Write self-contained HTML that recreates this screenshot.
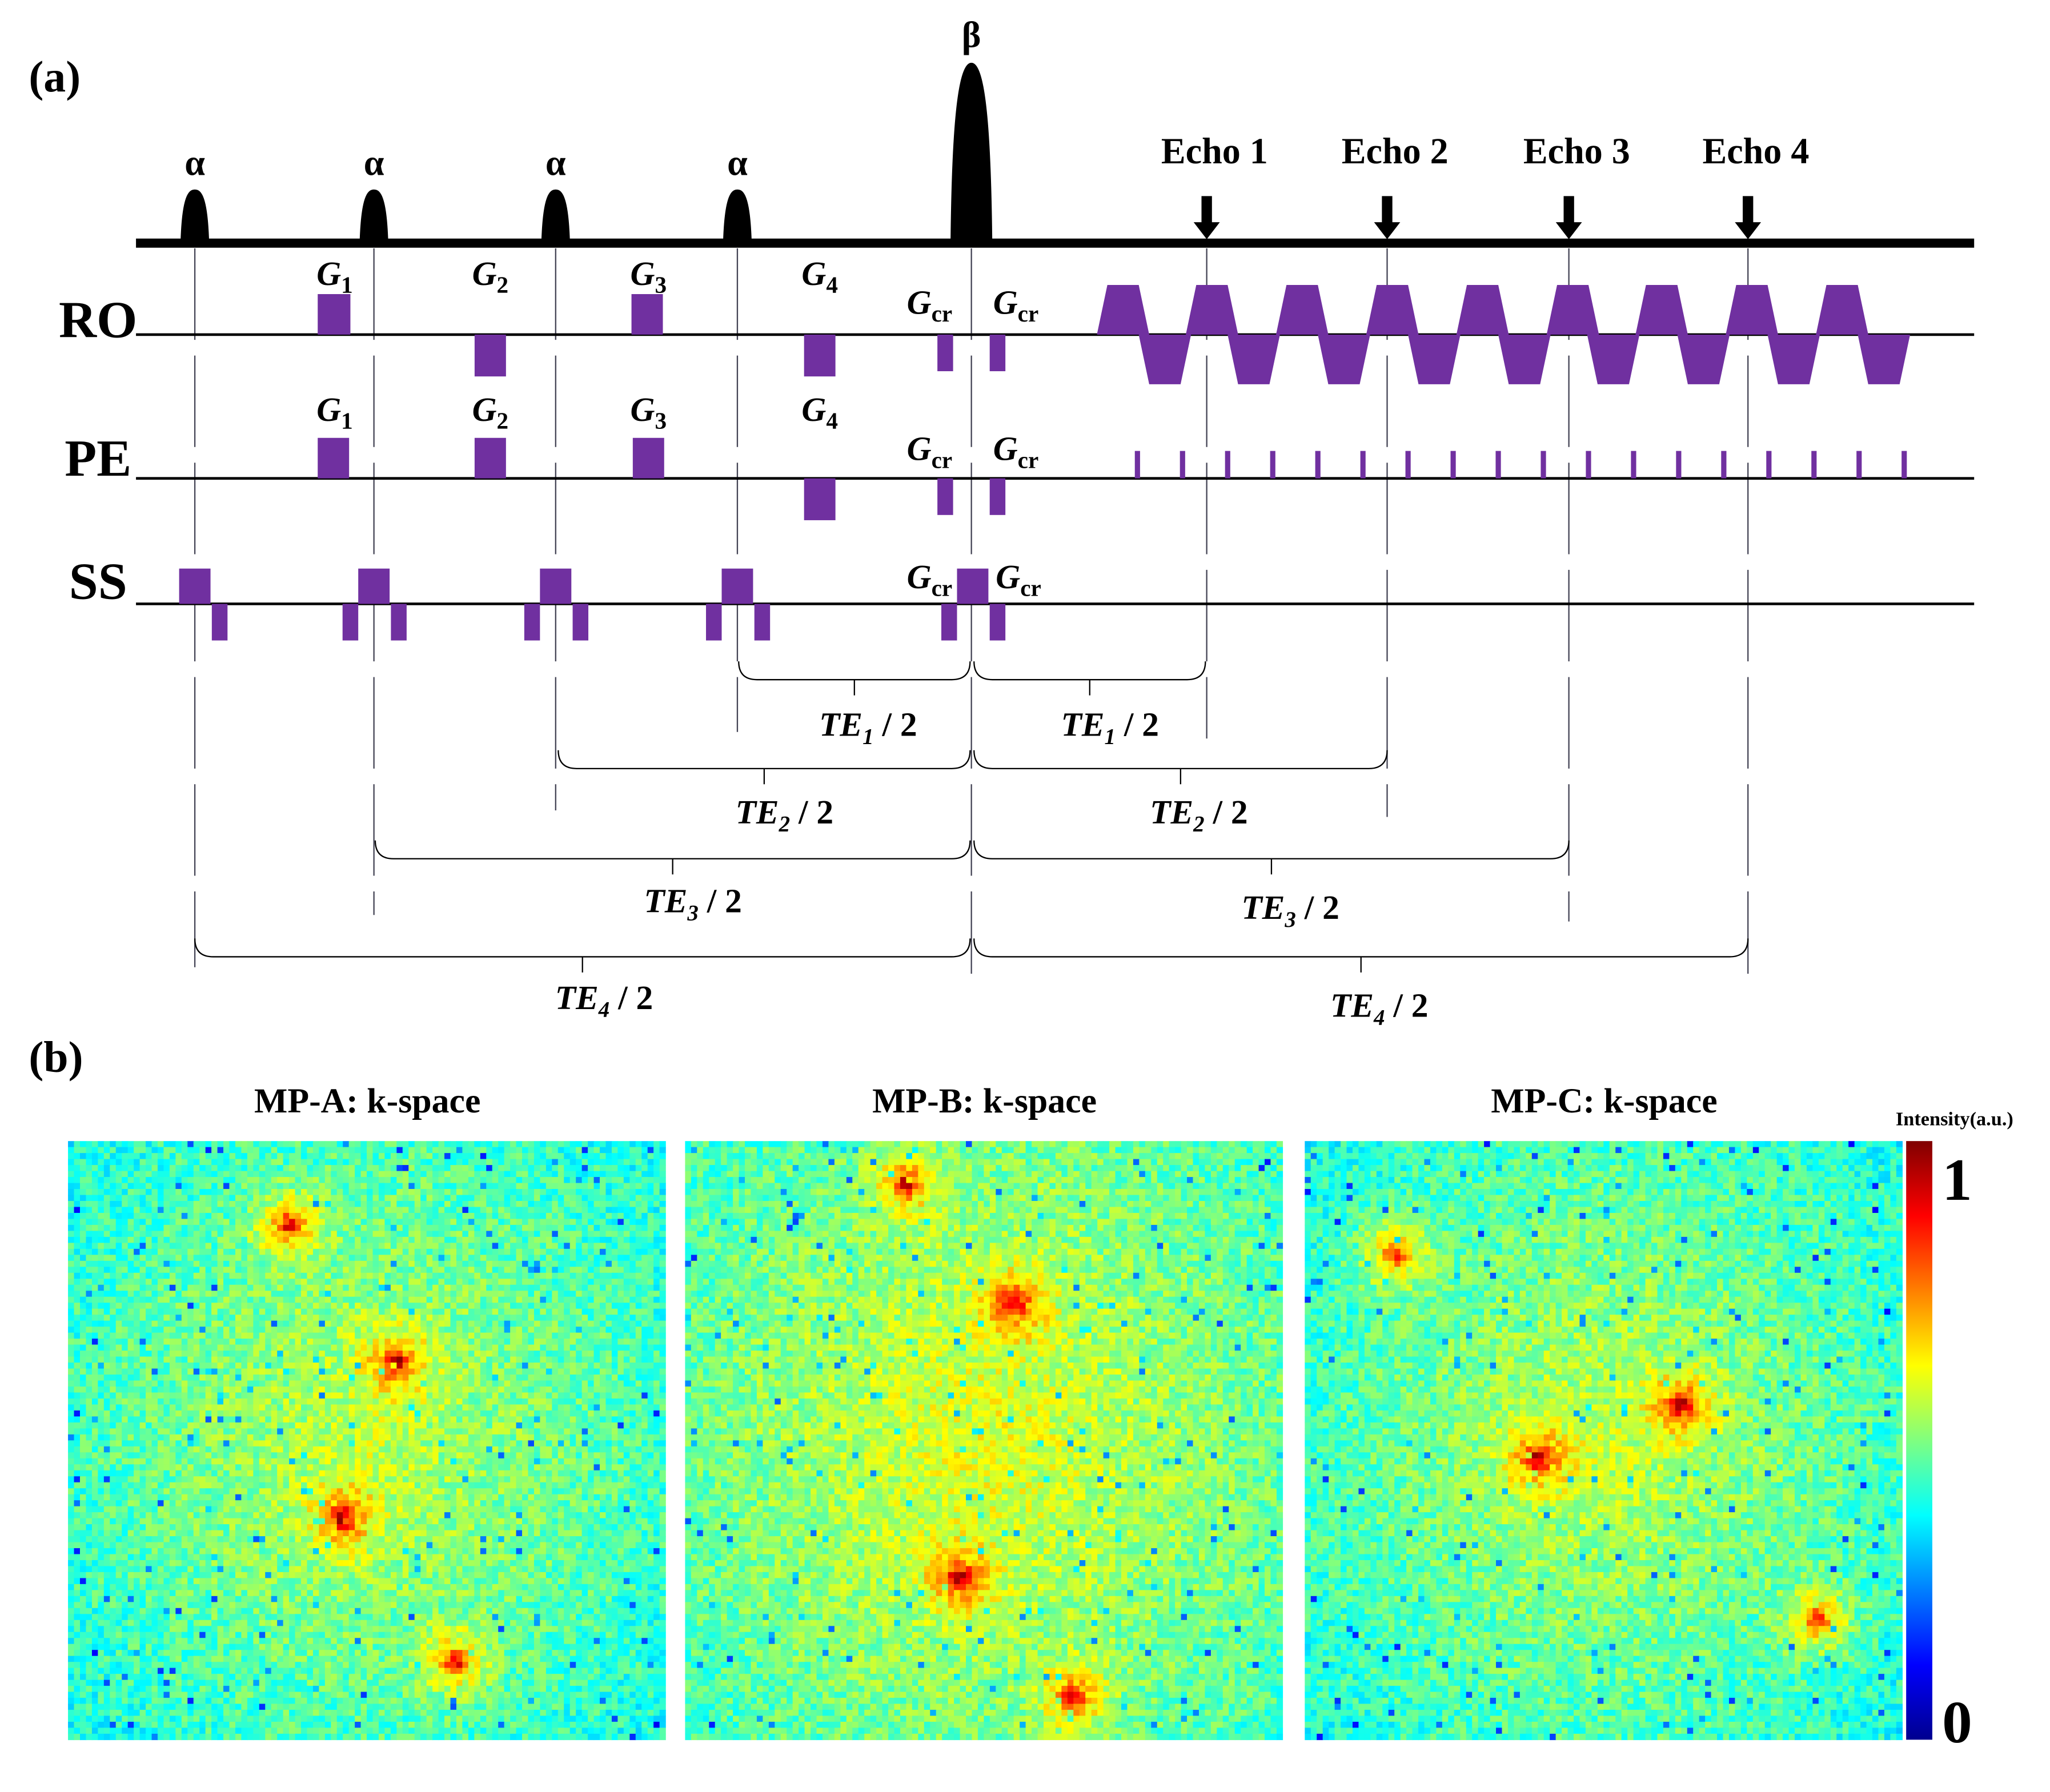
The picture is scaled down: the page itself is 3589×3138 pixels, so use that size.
<!DOCTYPE html>
<html><head><meta charset="utf-8"><style>
html,body{margin:0;padding:0;background:#fff}
svg{display:block}
text{font-family:"Liberation Serif",serif}
</style></head><body>
<svg id="s" width="3589" height="3138" viewBox="0 0 1568 1371" xmlns="http://www.w3.org/2000/svg">
<rect width="1568" height="1371" fill="#fff"/>
<text x="22" y="70" font-size="34" font-weight="bold">(a)</text>
<text x="22" y="820" font-size="34" font-weight="bold">(b)</text>
<g id="seq"></g>
<g id="maps"></g>
<defs>
<linearGradient id="jet" x1="0" y1="1" x2="0" y2="0">
<stop offset="0" stop-color="#00008f"/><stop offset="0.125" stop-color="#0000ff"/><stop offset="0.375" stop-color="#00ffff"/><stop offset="0.625" stop-color="#ffff00"/><stop offset="0.875" stop-color="#ff0000"/><stop offset="1" stop-color="#800000"/>
</linearGradient>
</defs>
<rect x="1458" y="873" width="20" height="458" fill="url(#jet)"/>
<text x="1495" y="861" font-size="15" font-weight="bold" text-anchor="middle">Intensity(a.u.)</text>
<text x="1497" y="918" font-size="46" font-weight="bold" text-anchor="middle">1</text>
<text x="1497" y="1333" font-size="46" font-weight="bold" text-anchor="middle">0</text>
</svg>
<script>
const NS="http://www.w3.org/2000/svg";
const seq=document.getElementById('seq');
function el(tag,attrs,parent,txt){const e=document.createElementNS(NS,tag);for(const k in attrs)e.setAttribute(k,attrs[k]);if(txt!==undefined)e.textContent=txt;(parent||seq).appendChild(e);return e;}
const P='#7030a0';
const alphaX=[149,286,425,564];
const betaX=743;
const echoX=[923,1061,1200,1337];
[...alphaX,betaX,...echoX].forEach((x,i)=>{
  const y2 = i<4 ? [740,700,620,560][i] : (i==4?745:[565,625,705,745][i-5]);
  const l=el('line',{x1:x,y1:190,x2:x,y2:y2,stroke:'#445',"stroke-width":1,"stroke-dasharray":"70,12"});
  
});
let b=el('line',{x1:104,y1:186,x2:1510,y2:186,stroke:'#000',"stroke-width":7});

alphaX.forEach(x=>{
  const p=el('path',{d:`M${x-11},187 C${x-10},150 ${x-5},145 ${x},145 C${x+5},145 ${x+10},150 ${x+11},187 Z`,fill:'#000'});
  
  const t=el('text',{x:x,y:134,"font-size":28,"font-weight":"bold","text-anchor":"middle","font-family":"DejaVu Sans"},seq,'α');
  
});
let bp=el('path',{d:`M${betaX-16},188 C${betaX-15},90 ${betaX-10},48 ${betaX},48 C${betaX+10},48 ${betaX+15},90 ${betaX+16},188 Z`,fill:'#000'});

let bt=el('text',{x:betaX,y:36,"font-size":28,"font-weight":"bold","text-anchor":"middle","font-family":"DejaVu Sans"},seq,'β');

echoX.forEach((x,i)=>{
  const t=el('text',{x:x+6,y:125,"font-size":28,"font-weight":"bold","text-anchor":"middle"},seq,'Echo '+(i+1));
  
  const a=el('path',{d:`M${x-4},150 h8 v20 h6 l-10,13 l-10,-13 h6 Z`,fill:'#000'});
  
});
[['RO',256,258],['PE',366,364],['SS',462,458]].forEach(([n,y,ty])=>{
  const l=el('line',{x1:104,y1:y,x2:1510,y2:y,stroke:'#000',"stroke-width":2});
  
  const t=el('text',{x:75,y:ty,"font-size":40,"font-weight":"bold","text-anchor":"middle"},seq,n);
  
});
function box(x1,x2,y1,y2,name){const r=el('rect',{x:x1,y:Math.min(y1,y2),width:x2-x1,height:Math.abs(y2-y1),fill:P});}
function glabel(x,y,sub){const t=el('text',{x:x,y:y,"font-size":26,"font-weight":"bold","font-style":"italic","text-anchor":"middle"});
  
  el('tspan',{},t,'G');el('tspan',{dy:6,"font-size":18,"font-style":"normal"},t,sub);}
box(243,268,225,256,'ro-g1');box(363,387,256,288,'ro-g2');box(483,507,225,256,'ro-g3');box(615,639,256,288,'ro-g4');
box(717,729,256,284,'ro-gcr');box(757,769,256,284,'ro-gcr');
glabel(256,218,'1');glabel(375,218,'2');glabel(496,218,'3');glabel(627,218,'4');glabel(711,240,'cr');glabel(777,240,'cr');
const upC=[859,927,996,1065,1134,1203,1271,1340,1409];
const dnC=[891,959,1028,1097,1166,1234,1303,1372,1441];
upC.forEach(c=>{const p=el('path',{d:`M${c-20},256 L${c-12},218 L${c+12},218 L${c+20},256 Z`,fill:P});});
dnC.forEach(c=>{const p=el('path',{d:`M${c-20},256 L${c-12},294 L${c+12},294 L${c+20},256 Z`,fill:P});});
box(243,267,335,366,'pe-g1');box(363,387,335,366,'pe-g2');box(484,508,335,366,'pe-g3');box(615,639,366,398,'pe-g4');
box(717,729,366,394,'pe-gcr');box(757,769,366,394,'pe-gcr');
glabel(256,322,'1');glabel(375,322,'2');glabel(496,322,'3');glabel(627,322,'4');glabel(711,352,'cr');glabel(777,352,'cr');
for(let i=0;i<18;i++){const x=868+i*34.5;box(x,x+4,345,366,'pe-blip');}
alphaX.forEach((x,i)=>{
  if(i==0){box(137,161,435,462,'ss-slice-select');box(162,174,462,490,'ss-rephase');}
  else{box(x-24,x-12,462,490,'ss-prephase');box(x-12,x+12,435,462,'ss-slice-select');box(x+13,x+25,462,490,'ss-rephase');}
});
box(720,732,462,490,'ss-gcr');box(732,756,435,462,'ss-slice-select');box(757,769,462,490,'ss-gcr');
glabel(711,450,'cr');glabel(779,450,'cr');
function brace(x1,x2,y,lx,ly,n){
  const mid=(x1+x2)/2;
  const d=`M${x1},${y-14} Q${x1},${y} ${x1+14},${y} L${x2-14},${y} Q${x2},${y} ${x2},${y-14}`;
  const p=el('path',{d:d,fill:'none',stroke:'#000',"stroke-width":1});
  const tk=el('line',{x1:mid,y1:y,x2:mid,y2:y+12,stroke:'#000',"stroke-width":1});
  const t=el('text',{x:lx,y:ly,"font-size":26,"font-weight":"bold","font-style":"italic","text-anchor":"middle"});
  
  el('tspan',{},t,'TE');el('tspan',{dy:6,"font-size":17},t,String(n));el('tspan',{dy:-6,"font-style":"normal"},t,' / 2');
}
brace(565,742,520,664,563,1);brace(745,922,520,849,563,1);
brace(427,742,588,600,630,2);brace(745,1061,588,917,630,2);
brace(287,742,657,530,698,3);brace(745,1200,657,987,703,3);
brace(149,742,732,462,772,4);brace(745,1337,732,1055,778,4);

// ---- k-space maps ----
const titles=['MP-A: k-space','MP-B: k-space','MP-C: k-space'];
const panelX=[52,524,998];
const spotsA=[[0.37,0.14],[0.55,0.37],[0.46,0.63],[0.65,0.87]];
const spotsB=[[0.37,0.07],[0.55,0.27],[0.46,0.73],[0.65,0.93]];
const spotsC=[[0.15,0.19],[0.63,0.44],[0.39,0.53],[0.86,0.80]];
const baseLevel=[0.40,0.44,0.40];
const allSpots=[spotsA,spotsB,spotsC];
const maps=document.getElementById('maps');
function jet(v){const c=t=>Math.round(255*Math.max(0,Math.min(1,t)));return `rgb(${c(1.5-Math.abs(4*v-3))},${c(1.5-Math.abs(4*v-2))},${c(1.5-Math.abs(4*v-1))})`;}
function hash(i,j,k){let h=(i*374761393+j*668265263+k*2147483647)|0;h=(h^(h>>>13))*1274126177|0;h=h^(h>>>16);return ((h>>>0)%10000)/10000;}
const N=100,W=457,H=458,Y0=873;
panelX.forEach((px,k)=>{
  const g=el('g',{},maps);
  const t=el('text',{x:px+229,y:851,"font-size":27,"font-weight":"bold","text-anchor":"middle"},maps,titles[k]);
  
  const cs=W/N, ch=H/N;
  for(let j=0;j<N;j++)for(let i=0;i<N;i++){
    const u=(i+0.5)/N,w=(j+0.5)/N;
    const dc=Math.hypot((u-0.5)*1.1,w-0.5);
    let v=baseLevel[k]+0.24*(0.7-dc)+(hash(i,j,k)-0.5)*0.16;
    if(hash(j,i,k+7)<0.02)v-=0.22;
    allSpots[k].forEach(([sx,sy])=>{const d=Math.hypot(u-sx,w-sy);v+=0.22*Math.exp(-(d*d)/(2*0.012*0.012))+0.2*Math.exp(-(d*d)/(2*0.04*0.04));});
    v=Math.max(0,Math.min(1,v));
    const r=document.createElementNS(NS,'rect');
    r.setAttribute('x',(px+i*cs).toFixed(2));r.setAttribute('y',(Y0+j*ch).toFixed(2));
    r.setAttribute('width',(cs+0.3).toFixed(2));r.setAttribute('height',(ch+0.3).toFixed(2));
    r.setAttribute('fill',jet(v));
    g.appendChild(r);
  }
});
</script>
</body></html>
